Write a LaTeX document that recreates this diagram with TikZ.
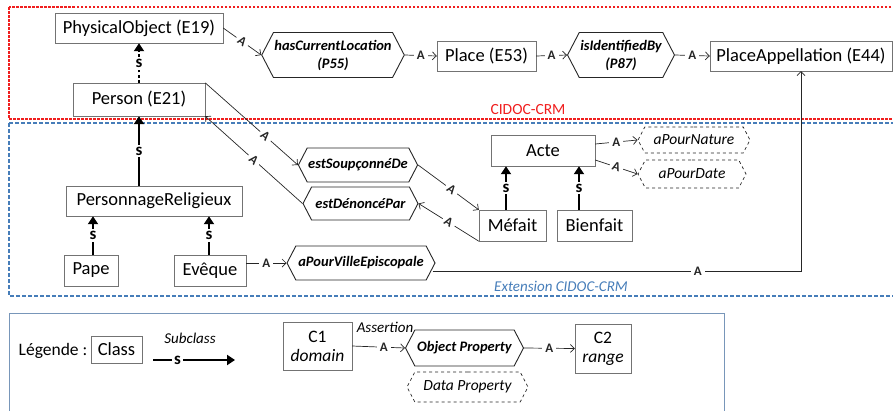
\documentclass[tikz,border=0pt]{standalone}
\usepackage{fontspec}
\setmainfont{Carlito}
\usetikzlibrary{arrows.meta}
\usetikzlibrary{shapes.symbols}
\usetikzlibrary{calc}
\definecolor{crmred}{RGB}{240,30,30}
\definecolor{extblue}{RGB}{70,125,185}
\definecolor{legblue}{RGB}{120,150,185}

\tikzset{
	cls/.style={draw=black!55, fill=white, inner sep=0pt, font=\fontsize{18.5}{20}\selectfont},
	prop/.style={signal, signal to=east and west, signal pointer angle=125, draw=black!85,
		line width=.9pt, fill=white, inner sep=1pt, align=center,
		font=\fontsize{14.5}{18}\selectfont\bfseries\itshape},
	dprop/.style={prop, dashed, line width=.7pt, font=\fontsize{15.5}{17}\selectfont\itshape},
	ass/.style={-{Straight Barb[length=4pt,width=8pt]}, black!85, line width=.7pt},
	alab/.style={fill=white, inner sep=3pt, font=\fontsize{13}{14}\selectfont\bfseries},
	sub/.style={-{Triangle[length=8pt,width=10pt]}, line width=2.5pt},
	slab/.style={fill=white, inner sep=2pt, font=\fontsize{17}{18}\selectfont\bfseries}
}

\begin{document}
\begin{tikzpicture}[x=1pt, y=-1pt]
	\useasboundingbox (0,0) rectangle (893,410);
	% frames
	\draw[crmred, line width=1.1pt, dash pattern=on 2.5pt off 1.5pt] (9,7) rectangle (900,119);
	\draw[extblue, line width=1.2pt, dash pattern=on 4pt off 2pt] (9,123) rectangle (900,296);
	\node[crmred, font=\fontsize{15.5}{17}\selectfont] (crm) at (528,110) {CIDOC-CRM};
	\node[extblue, font=\fontsize{15}{17}\selectfont\itshape] (ext) at (561,286) {Extension CIDOC-CRM};

	% CIDOC-CRM
	\node[cls, minimum width=168, minimum height=30] (po) at (139,28) {PhysicalObject (E19)};
	\node[cls, minimum width=132, minimum height=33] (per) at (139,99.5) {Person (E21)};
	\node[prop, minimum width=130, minimum height=45] (hcl) at (333,55) {hasCurrentLocation\\(P55)};
	\node[cls, minimum width=99, minimum height=30] (pl) at (486.5,56) {Place (E53)};
	\node[prop, minimum width=98, minimum height=45] (iib) at (621,55) {isIdentifiedBy\\(P87)};
	\node[cls, minimum width=182, minimum height=30] (pa) at (801,56) {PlaceAppellation (E44)};

	% extension
	\node[cls, minimum width=176, minimum height=30] (pr) at (154,201) {PersonnageReligieux};
	\node[cls, minimum width=54, minimum height=31] (pape) at (91,270.5) {Pape};
	\node[cls, minimum width=72, minimum height=31] (ev) at (210,270.5) {Evêque};
	\node[prop, minimum width=148, minimum height=34] (vep) at (361,263) {aPourVilleEpiscopale};
	\node[prop, minimum width=110, minimum height=34] (esd) at (358,165) {estSoupçonnéDe};
	\node[prop, minimum width=115, minimum height=33] (edp) at (360.5,203.5) {estDénoncéPar};
	\node[cls, minimum width=67, minimum height=31] (mef) at (512.5,225.5) {Méfait};
	\node[cls, minimum width=75, minimum height=31] (bien) at (594.5,225.5) {Bienfait};
	\node[cls, minimum width=104, minimum height=31] (acte) at (543,150.5) {Acte};
	\node[dprop, minimum width=112, minimum height=26] (nat) at (694,140) {aPourNature};
	\node[dprop, minimum width=108, minimum height=28] (dat) at (692,174) {aPourDate};

	% assertions
	\draw[ass] (po.east) -- node[alab, sloped] {A} (hcl.west);
	\draw[ass] (hcl.east) -- node[alab] {A} (pl.west);
	\draw[ass] (pl.east) -- node[alab] {A} (iib.west);
	\draw[ass] (iib.east) -- node[alab] {A} (pa.west);
	\draw[ass] (per.north east) -- node[alab, sloped, pos=.65] {A} (esd.west);
	\draw[ass] (edp.west) -- node[alab, sloped] {A} (per.south east);
	\draw[ass] (esd.east) -- node[alab, sloped, pos=.55] {A} (mef.north west);
	\draw[ass] (mef.south west) -- node[alab, sloped] {A} (edp.east);
	\draw[ass] ($(acte.east)+(0,-6.5)$) -- node[alab] {A} (nat.west);
	\draw[ass] ($(acte.east)+(0,9.5)$) -- node[alab, sloped] {A} (dat.west);
	\draw[ass] (ev.east |- vep.west) -- node[alab] {A} (vep.west);
	\draw[ass] ($(vep.east)+(-3,8)$) -| node[alab, pos=.36] {A} (pa.south);

	% subclasses
	\draw[sub, dash pattern=on 2.5pt off 2.7pt] (per.north) -- node[slab] {s} (po.south);
	\draw[sub] (per.south |- pr.north) -- node[slab] {s} (per.south);
	\draw[sub] ($(pape.north)+(2,0)$) -- node[slab] {s} ($(pape.north |- pr.south)+(2,0)$);
	\draw[sub] ($(ev.north)+(-1,0)$) -- node[slab] {s} ($(ev.north |- pr.south)+(-1,0)$);
	\draw[sub] ($(mef.north)+(-6.5,0)$) -- node[slab] {s} ($(mef.north |- acte.south)+(-6.5,0)$);
	\draw[sub] ($(bien.north)+(-15.5,0)$) -- node[slab] {s} ($(bien.north |- acte.south)+(-15.5,0)$);

	% legend
	\draw[legblue, line width=1pt] (9,313) rectangle (724,420);
	\node[font=\fontsize{17.5}{19}\selectfont] (leg) at (53,351) {Légende :};
	\node[cls, minimum width=51, minimum height=27] (cl) at (116.5,349.5) {Class};
	\coordinate (s1) at (153,360);
	\coordinate (s2) at (235,360);
	\draw[sub] (s1) -- node[slab, pos=.3] {s} (s2);
	\node[font=\fontsize{15}{17}\selectfont\itshape] (subl) at (190,338) {Subclass};
	\node[cls, align=center, minimum width=69, minimum height=48, font=\fontsize{17.5}{19}\selectfont] (c1) at (317.5,346) {C1\\\textit{domain}};
	\node[prop, minimum width=118, minimum height=36] (op) at (464.5,348) {Object Property};
	\node[cls, align=center, minimum width=56, minimum height=49, font=\fontsize{17.5}{19}\selectfont] (c2) at (603,348.5) {C2\\\textit{range}};
	\node[dprop, minimum width=121, minimum height=30] (dp) at (467.5,387) {Data Property};
	\draw[ass] (c1.east) -- node[alab, pos=.6] {A} (op.west);
	\node[font=\fontsize{15}{17}\selectfont\itshape] (asl) at (385,327) {Assertion};
	\draw[ass] (op.east) -- node[alab] {A} (c2.west);
\end{tikzpicture}
\end{document}
